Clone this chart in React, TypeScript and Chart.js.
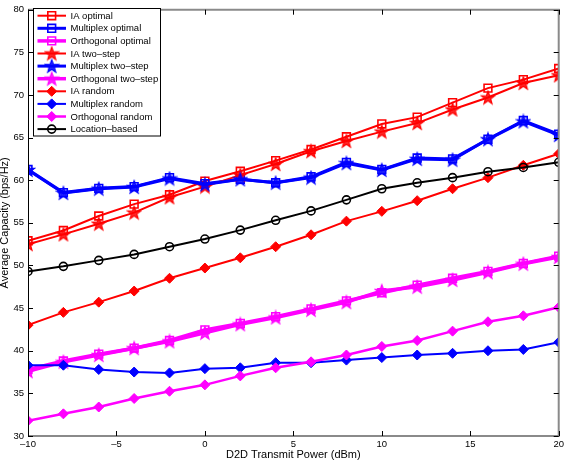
import React, { useEffect, useRef } from "react";
import { Chart, registerables } from "chart.js";

Chart.register(...registerables);

const xValues = [-10, -8, -6, -4, -2, 0, 2, 4, 6, 8, 10, 12, 14, 16, 18, 20];
const iaOptimal = [52.9, 54.1, 55.8, 57.2, 58.3, 59.9, 61.05, 62.3, 63.6, 65.1, 66.6, 67.4, 69.1, 70.8, 71.8, 73.1];
const multiplexOptimal = [61.25, 58.55, 59.05, 59.25, 60.3, 59.6, 60.1, 59.7, 60.4, 62.1, 61.25, 62.6, 62.5, 64.8, 67.0, 65.4];
const orthogonalOptimal = [37.8, 38.8, 39.6, 40.3, 41.2, 42.45, 43.2, 44.0, 44.9, 45.85, 46.8, 47.7, 48.5, 49.3, 50.25, 51.1];
const iaTwoStep = [52.5, 53.65, 54.9, 56.2, 58.0, 59.25, 60.6, 61.9, 63.4, 64.6, 65.7, 66.7, 68.3, 69.7, 71.4, 72.3];
const multiplexTwoStep = [61.2, 58.5, 59.0, 59.2, 60.2, 59.5, 60.1, 59.7, 60.3, 62.0, 61.2, 62.5, 62.4, 64.8, 66.9, 65.3];
const orthogonalTwoStep = [37.6, 38.7, 39.5, 40.3, 41.1, 42.1, 43.1, 43.9, 44.8, 45.7, 47.0, 47.5, 48.3, 49.2, 50.2, 51.0];
const iaRandom = [43.0, 44.5, 45.7, 47.0, 48.5, 49.7, 50.9, 52.2, 53.6, 55.2, 56.35, 57.6, 59.0, 60.3, 61.75, 63.1];
const multiplexRandom = [38.3, 38.3, 37.8, 37.5, 37.4, 37.9, 38.0, 38.6, 38.6, 38.9, 39.2, 39.5, 39.7, 40.0, 40.15, 41.0];
const orthogonalRandom = [31.8, 32.6, 33.4, 34.4, 35.25, 36.0, 37.05, 38.0, 38.7, 39.5, 40.5, 41.2, 42.3, 43.4, 44.1, 45.1];
const locationBased = [49.3, 49.9, 50.6, 51.3, 52.2, 53.1, 54.15, 55.3, 56.4, 57.7, 59.0, 59.7, 60.3, 61.0, 61.5, 62.1];

const seriesLabels = [
  "IA optimal",
  "Multiplex optimal",
  "Orthogonal optimal",
  "IA two–step",
  "Multiplex two–step",
  "Orthogonal two–step",
  "IA random",
  "Multiplex random",
  "Orthogonal random",
  "Location–based",
];

const xTitle = "D2D Transmit Power (dBm)";
const yTitle = "Average Capacity (bps/Hz)";

const RED = "#ff0000";
const BLUE = "#0000ff";
const MAGENTA = "#ff00ff";
const BLACK = "#000000";
const FONT = "'Liberation Sans', Arial, Helvetica, sans-serif";

function makeStar(color: string): HTMLCanvasElement {
  const c = document.createElement("canvas");
  c.width = 16;
  c.height = 16;
  const ctx = c.getContext("2d")!;
  const cx = 8, cy = 8.5, R = 6.8, r = 2.8;
  ctx.beginPath();
  for (let i = 0; i < 10; i++) {
    const rad = i % 2 === 0 ? R : r;
    const a = -Math.PI / 2 + (i * Math.PI) / 5;
    const px = cx + rad * Math.cos(a);
    const py = cy + rad * Math.sin(a);
    if (i === 0) ctx.moveTo(px, py);
    else ctx.lineTo(px, py);
  }
  ctx.closePath();
  ctx.fillStyle = color;
  ctx.globalAlpha = 0.85;
  ctx.fill();
  ctx.globalAlpha = 1;
  ctx.lineWidth = 1.2;
  ctx.strokeStyle = color;
  ctx.stroke();
  return c;
}

function drawMarker(ctx: CanvasRenderingContext2D, ds: any, x: number, y: number) {
  const style = ds.pointStyle;
  const r = ds.pointRadius;
  ctx.save();
  ctx.lineWidth = ds.pointBorderWidth;
  ctx.strokeStyle = ds.pointBorderColor;
  ctx.fillStyle = ds.pointBackgroundColor;
  if (style instanceof HTMLCanvasElement) {
    ctx.drawImage(style, x - style.width / 2, y - style.height / 2);
  } else if (style === "rect") {
    const s = Math.SQRT1_2 * r;
    ctx.beginPath();
    ctx.rect(x - s, y - s, 2 * s, 2 * s);
    ctx.fill();
    ctx.stroke();
  } else if (style === "rectRot") {
    ctx.beginPath();
    ctx.moveTo(x, y - r);
    ctx.lineTo(x + r, y);
    ctx.lineTo(x, y + r);
    ctx.lineTo(x - r, y);
    ctx.closePath();
    ctx.fill();
    ctx.stroke();
  } else {
    ctx.beginPath();
    ctx.arc(x, y, r, 0, Math.PI * 2);
    ctx.fill();
    ctx.stroke();
  }
  ctx.restore();
}

const framePlugin = {
  id: "matlabFrame",
  afterDraw(chart: any) {
    const { ctx, chartArea } = chart;
    const { left, right, top, bottom } = chartArea;
    const xs = chart.scales.x;
    const ys = chart.scales.y;
    ctx.save();
    // box
    ctx.strokeStyle = "#8a8a8a";
    ctx.lineWidth = 2;
    ctx.beginPath();
    ctx.moveTo(left, top);
    ctx.lineTo(right, top);
    ctx.lineTo(right, bottom);
    ctx.lineTo(left, bottom);
    ctx.stroke();
    ctx.strokeStyle = "#000";
    ctx.lineWidth = 1;
    ctx.beginPath();
    ctx.moveTo(left + 0.5, top);
    ctx.lineTo(left + 0.5, bottom);
    ctx.stroke();
    // inside ticks
    const tl = 5;
    ctx.strokeStyle = "#000";
    ctx.lineWidth = 1;
    ctx.beginPath();
    xs.ticks.forEach((t: any) => {
      const px = Math.round(xs.getPixelForValue(t.value)) + 0.5;
      ctx.moveTo(px, bottom);
      ctx.lineTo(px, bottom - tl);
      ctx.moveTo(px, top);
      ctx.lineTo(px, top + tl);
    });
    ys.ticks.forEach((t: any) => {
      const py = Math.round(ys.getPixelForValue(t.value)) + 0.5;
      ctx.moveTo(left, py);
      ctx.lineTo(left + tl, py);
      ctx.moveTo(right, py);
      ctx.lineTo(right - tl, py);
    });
    ctx.stroke();

    // legend
    const datasets = chart.data.datasets;
    const bx = 33, by = 8.5, bw = 127, rowH = 12.6;
    const bh = rowH * datasets.length + 1.5;
    ctx.fillStyle = "#fff";
    ctx.fillRect(bx, by, bw, bh);
    ctx.strokeStyle = "#000";
    ctx.lineWidth = 1;
    ctx.strokeRect(bx + 0.5, by, bw, bh);
    ctx.font = `9.5px ${FONT}`;
    ctx.textBaseline = "middle";
    ctx.textAlign = "left";
    datasets.forEach((ds: any, i: number) => {
      const cy = by + 7.2 + i * rowH;
      ctx.strokeStyle = ds.borderColor;
      ctx.lineWidth = Math.max(2, ds.borderWidth);
      ctx.beginPath();
      ctx.moveTo(37.5, cy);
      ctx.lineTo(66, cy);
      ctx.stroke();
      drawMarker(ctx, ds, 51.7, cy);
      ctx.fillStyle = "#000";
      ctx.fillText(ds.label, 70.5, cy + 0.5);
    });
    ctx.restore();
  },
};

function toPoints(vals: number[]) {
  return vals.map((v, i) => ({ x: xValues[i], y: v }));
}

export default function App() {
  const ref = useRef<HTMLCanvasElement | null>(null);

  useEffect(() => {
    document.body.style.margin = "0";
    const canvas = ref.current;
    if (!canvas) return;

    const starRed = makeStar(RED);
    const starBlue = makeStar(BLUE);
    const starMagenta = makeStar(MAGENTA);

    const seriesValues = [
      iaOptimal,
      multiplexOptimal,
      orthogonalOptimal,
      iaTwoStep,
      multiplexTwoStep,
      orthogonalTwoStep,
      iaRandom,
      multiplexRandom,
      orthogonalRandom,
      locationBased,
    ];
    const colors = [RED, BLUE, MAGENTA, RED, BLUE, MAGENTA, RED, BLUE, MAGENTA, BLACK];
    const styles: any[] = ["rect", "rect", "rect", starRed, starBlue, starMagenta, "rectRot", "rectRot", "rectRot", "circle"];
    const widths = [2, 3, 3.5, 2, 3, 3.5, 2, 2, 2.5, 2];
    const radii = [5.5, 5.5, 5.5, 7, 7, 7, 5, 5, 5, 4];

    const datasets = seriesValues.map((vals, i) => {
      const hollow = i < 3 || i === 9;
      return {
        label: seriesLabels[i],
        data: toPoints(vals),
        borderColor: colors[i],
        backgroundColor: colors[i],
        borderWidth: widths[i],
        pointStyle: styles[i],
        pointRadius: radii[i],
        pointBorderWidth: hollow ? 1.6 : 1,
        pointBorderColor: colors[i],
        pointBackgroundColor: hollow ? "rgba(255,255,255,0)" : colors[i],
        tension: 0,
        order: 20 - i,
      };
    });

    const fmt = (v: any) => String(v).replace("-", "–");

    const chart = new Chart(canvas, {
      type: "line",
      data: { datasets },
      options: {
        animation: false,
        responsive: false,
        maintainAspectRatio: false,
        events: [],
        layout: { padding: { top: 4, right: 5, left: 0, bottom: 0 } },
        plugins: {
          legend: { display: false },
          tooltip: { enabled: false },
        },
        scales: {
          x: {
            type: "linear",
            min: -10,
            max: 20,
            grid: { display: false, drawTicks: false },
            border: { display: false },
            ticks: {
              stepSize: 5,
              padding: 3,
              color: "#000",
              font: { family: FONT, size: 9.5 },
              maxRotation: 0,
              callback: (v: any) => fmt(v),
            },
            title: {
              display: true,
              text: xTitle,
              color: "#000",
              font: { family: FONT, size: 11 },
              padding: { top: 0, bottom: 0 },
            },
            afterFit: (s: any) => {
              s.height = 26;
            },
          },
          y: {
            type: "linear",
            min: 30,
            max: 80,
            grid: { display: false, drawTicks: false },
            border: { display: false },
            ticks: {
              stepSize: 5,
              padding: 4,
              color: "#000",
              font: { family: FONT, size: 9.5 },
              callback: (v: any) => fmt(v),
            },
            title: {
              display: true,
              text: yTitle,
              color: "#000",
              font: { family: FONT, size: 11 },
              padding: { top: -1.5, bottom: 0 },
            },
            afterFit: (s: any) => {
              s.width = 28;
            },
          },
        },
      },
      plugins: [framePlugin],
    });

    return () => chart.destroy();
  }, []);

  return (
    <div style={{ width: 567, height: 462, background: "#fff" }}>
      <canvas ref={ref} width={567} height={462} style={{ display: "block" }} />
    </div>
  );
}
